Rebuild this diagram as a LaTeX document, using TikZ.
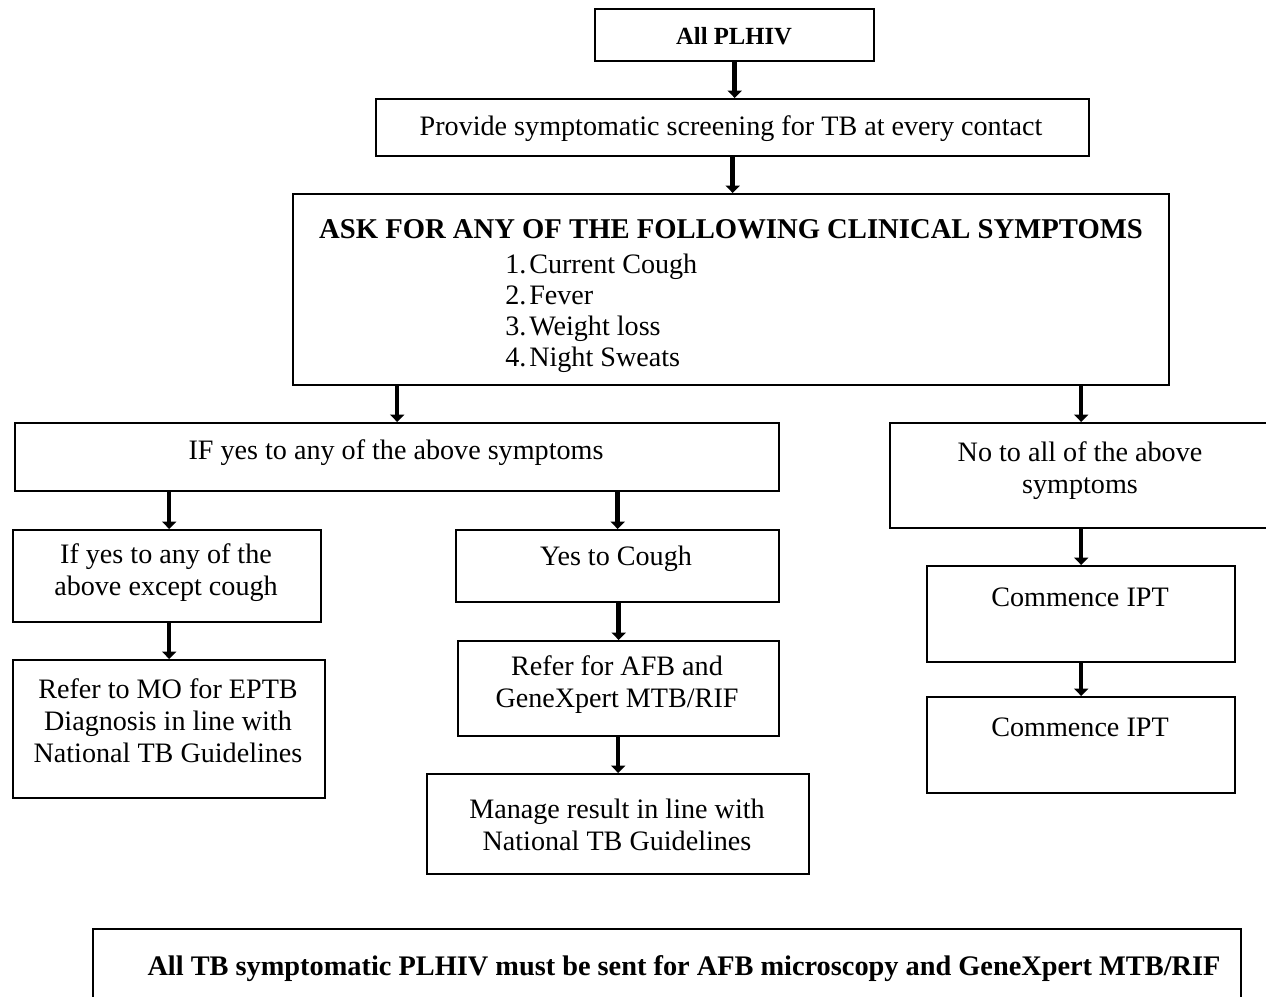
\documentclass[tikz,border=0pt]{standalone}
\usepackage{fontspec}
\setmainfont{Liberation Serif}
\usetikzlibrary{arrows.meta,calc}
% rectangle node given by its corners (in px)
\newcommand\flowbox[5]{\node[box,minimum width={(#4-#2)*0.75pt},minimum height={(#5-#3)*0.75pt}] (#1) at (#2,#3) {};}
\begin{document}
\begin{tikzpicture}[x=0.75pt,y=-0.75pt,
  box/.style={draw,line width=1.8pt,inner sep=0pt,anchor=north west},
  txt/.style={font=\fontsize{21.1}{24}\selectfont,align=center,inner sep=0pt},
  btxt/.style={font=\bfseries\fontsize{21.25}{24}\selectfont,inner sep=0pt},
  arr/.style={line width=3.4pt,-{Triangle[width=10.5pt,length=5.5pt]}}]
\useasboundingbox (0,0) rectangle (1266,996);

% boxes
\flowbox{top}{594}{8}{873}{60}
\flowbox{prov}{375}{98}{1088}{155}
\flowbox{ask}{292}{193}{1168}{384}
\flowbox{ifyes}{14}{422}{778}{490}
\flowbox{noall}{889}{422}{1275}{527}
\flowbox{exc}{12}{529}{320}{621}
\flowbox{cough}{455}{529}{778}{601}
\flowbox{mo}{12}{659}{324}{797}
\flowbox{afb}{457}{640}{778}{735}
\flowbox{manage}{426}{773}{808}{873}
\flowbox{ipt1}{926}{565}{1234}{661}
\flowbox{ipt2}{926}{696}{1234}{792}
\flowbox{note}{92}{928}{1240}{1005}

% texts
\node[btxt,font=\bfseries\fontsize{18.5}{22}\selectfont,anchor=mid] (ttop) at (734,41) {All PLHIV};
\node[txt,anchor=mid] (tprov) at (731,132) {Provide symptomatic screening for TB at every contact};
\node[btxt,font=\bfseries\fontsize{21.5}{26}\selectfont,anchor=mid] (task) at (731,235) {ASK FOR ANY OF THE FOLLOWING CLINICAL SYMPTOMS};
\node[txt,anchor=mid west] (l1) at (505,270) {\makebox[18pt][l]{1.}Current Cough};
\node[txt,anchor=mid west] (l2) at (505,301) {\makebox[18pt][l]{2.}Fever};
\node[txt,anchor=mid west] (l3) at (505,332) {\makebox[18pt][l]{3.}Weight loss};
\node[txt,anchor=mid west] (l4) at (505,363) {\makebox[18pt][l]{4.}Night Sweats};
\node[txt,anchor=mid] (tifyes) at (396,456) {IF yes to any of the above symptoms};
\node[txt] (tnoall) at (1080,471) {No to all of the above\\symptoms};
\node[txt] (texc) at (166,573) {If yes to any of the\\above except cough};
\node[txt,anchor=mid] (tcough) at (616,562) {Yes to Cough};
\node[txt] (tmo) at (168,721) {Refer to MO for EPTB\\Diagnosis in line with\\National TB Guidelines};
\node[txt] (tafb) at (617,685) {Refer for AFB and\\GeneXpert MTB/RIF};
\node[txt] (tmanage) at (617,825) {Manage result in line with\\National TB Guidelines};
\node[txt,anchor=mid] (tipt1) at (1080,603) {Commence IPT};
\node[txt,anchor=mid] (tipt2) at (1080,733) {Commence IPT};
\node[btxt,anchor=mid] (tnote) at (684,972) {All TB symptomatic PLHIV must be sent for AFB microscopy and GeneXpert MTB/RIF};

% connectors
\draw[arr] (top.south) -- (top.south |- prov.north);
\draw[arr] (prov.south) -- (prov.south |- ask.north);
\draw[arr] (ask.south -| ifyes.north) -- (ifyes.north);
\draw[arr] (ask.south -| ipt1.north) -- (noall.north -| ipt1.north);
\draw[arr] (ifyes.south -| mo.north) -- (exc.north -| mo.north);
\draw[arr] (exc.south -| mo.north) -- (mo.north);
\draw[arr] (ifyes.south -| cough.north) -- (cough.north);
\draw[arr] (cough.south -| afb.north) -- (afb.north);
\draw[arr] (afb.south -| manage.north) -- (manage.north);
\draw[arr] (noall.south -| ipt1.north) -- (ipt1.north);
\draw[arr] (ipt1.south) -- (ipt2.north);
\end{tikzpicture}
\end{document}
